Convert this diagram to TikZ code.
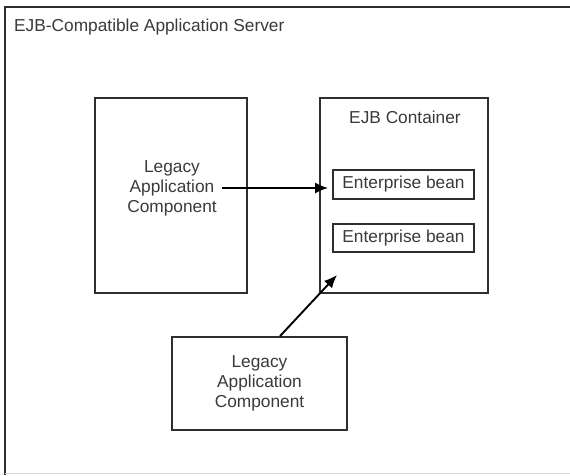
\documentclass[tikz,border=0pt]{standalone}
\usepackage{fontspec}
\setmainfont{Liberation Sans}
\usetikzlibrary{arrows.meta}
\definecolor{txt}{HTML}{3A3A3A}
\definecolor{edge}{HTML}{2E2E2E}
\tikzset{
  box/.style={draw=edge, line width=1.8pt, fill=white, inner sep=0pt},
  lbl/.style={text=txt, font=\fontsize{17.3}{20}\selectfont, inner sep=0pt},
  conn/.style={draw=black, line width=1.9pt, -{Latex[length=13pt,width=11pt]}},
}
\begin{document}
\begin{tikzpicture}[x=1pt,y=-1pt]
\useasboundingbox (0,0) rectangle (570,475);
\fill[white] (0,0) rectangle (570,475);
% outer frame (only left and top edges visible)
\coordinate (ftl) at (5,7);
\coordinate (ftr) at (570,7);
\coordinate (fbl) at (5,475);
\draw[edge, line width=2.6pt] (fbl) -- (ftl) -- (ftr);
\coordinate (bl) at (5,473.5);
\coordinate (br) at (570,473.5);
\draw[black!15, line width=1pt] (bl) -- (br);
\node[lbl, anchor=base west] (title) at (14,31) {EJB-Compatible Application Server};

% left legacy component
\node[box, minimum width=152pt, minimum height=195pt] (legacy1) at (171,195.5) {};
\node[lbl, align=center] (legacy1t) at (172,188) {Legacy\\Application\\Component};

% EJB container
\node[box, minimum width=168pt, minimum height=195pt] (cont) at (404,195.5) {};
\node[lbl, anchor=base] (contt) at (405,123) {EJB Container};
\node[box, minimum width=141pt, minimum height=29pt] (bean1) at (403.5,184.5) {};
\node[lbl] (bean1t) at (403.5,184.5) {Enterprise bean};
\node[box, minimum width=141pt, minimum height=28pt] (bean2) at (403.5,238) {};
\node[lbl] (bean2t) at (403.5,238) {Enterprise bean};

% bottom legacy component
\node[box, minimum width=175pt, minimum height=93pt] (legacy2) at (259.5,383.5) {};
\node[lbl, align=center] (legacy2t) at (259.5,383.5) {Legacy\\Application\\Component};

% connectors
\coordinate (a1s) at (222,188);
\draw[conn, shorten >=4pt] (a1s) -- (bean1.west |- a1s);
\coordinate (a2s) at ([xshift=20.5pt]legacy2.north);
\coordinate (a2e) at (337,275);
\draw[conn] (a2s) -- (a2e);
\end{tikzpicture}
\end{document}
